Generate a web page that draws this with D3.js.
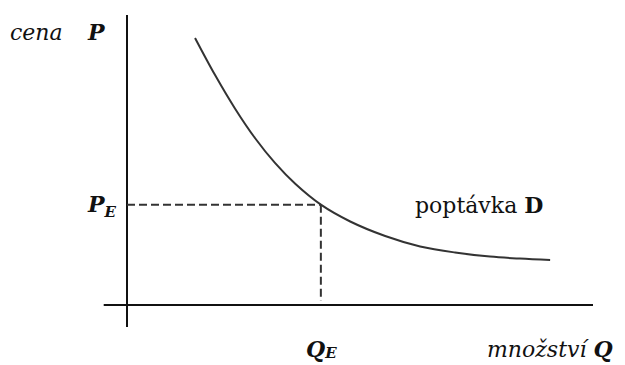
<!DOCTYPE html>
<html lang="cs">
<head>
<meta charset="UTF-8">
<title>Poptávka</title>
<script src="https://d3js.org/d3.v7.min.js"></script>
<style>
  body { margin: 0; background: #fff; }
  svg text { font-family: "DejaVu Serif", "Liberation Serif", serif; fill: #111; }
  .it { font-style: italic; }
  .bi { font-style: italic; font-weight: bold; }
  .b { font-weight: bold; }
</style>
</head>
<body>
<svg width="625" height="365"></svg>
<script>
// demand curve (arbitrary units, 0-100)
const demandQ = [14.6, 18.9, 23.2, 27.5, 31.8, 36.1, 41.6, 47.9, 55.4, 62.9, 70.4, 77.9, 84.3, 90.8];
const demandP = [92.1, 79.3, 67.7, 57.5, 48.9, 41.8, 34.6, 28.8, 23.8, 20.2, 18.1, 16.7, 16.0, 15.5];
const eqQ = 41.6, eqP = 34.6;
const axisQ = [-5, 100];
const axisP = [-7.6, 100];

const svg = d3.select("svg");
const x = d3.scaleLinear().domain([0, 100]).range([127, 593]);
const y = d3.scaleLinear().domain([0, 100]).range([305, 15]);

// axes
svg.append("line")
  .attr("x1", x(0)).attr("x2", x(0))
  .attr("y1", y(axisP[0])).attr("y2", y(axisP[1]))
  .attr("stroke", "#111").attr("stroke-width", 2);
svg.append("line")
  .attr("x1", x(axisQ[0])).attr("x2", x(axisQ[1]))
  .attr("y1", y(0)).attr("y2", y(0))
  .attr("stroke", "#111").attr("stroke-width", 2);

// equilibrium guides
svg.append("line")
  .attr("x1", x(0)).attr("x2", x(eqQ))
  .attr("y1", y(eqP)).attr("y2", y(eqP))
  .attr("stroke", "#333").attr("stroke-width", 2).attr("stroke-dasharray", "8,4");
svg.append("line")
  .attr("x1", x(eqQ)).attr("x2", x(eqQ))
  .attr("y1", y(eqP)).attr("y2", y(0) - 4)
  .attr("stroke", "#333").attr("stroke-width", 2).attr("stroke-dasharray", "8,4");

// demand curve
const line = d3.line()
  .x((d, i) => x(demandQ[i]))
  .y(d => y(d))
  .curve(d3.curveCatmullRom);
svg.append("path")
  .attr("d", line(demandP))
  .attr("fill", "none").attr("stroke", "#333").attr("stroke-width", 2);

// labels
svg.append("text").attr("class", "it").attr("x", 10).attr("y", 40)
  .attr("font-size", 22).text("cena");
svg.append("text").attr("class", "bi").attr("x", 88).attr("y", 40)
  .attr("font-size", 22).text("P");

const pe = svg.append("text").attr("class", "bi").attr("x", 88).attr("y", 212).attr("font-size", 22);
pe.append("tspan").text("P");
pe.append("tspan").attr("font-size", 15).attr("dy", 5).text("E");

const qe = svg.append("text").attr("class", "bi").attr("x", 306).attr("y", 357).attr("font-size", 22);
qe.append("tspan").text("Q");
qe.append("tspan").attr("font-size", 15).attr("dy", 1).text("E");

const dl = svg.append("text").attr("x", 415).attr("y", 213).attr("font-size", 22);
dl.append("tspan").text("poptávka ");
dl.append("tspan").attr("class", "b").text("D");

const ql = svg.append("text").attr("x", 487).attr("y", 357).attr("font-size", 22);
ql.append("tspan").attr("class", "it").text("množství ");
ql.append("tspan").attr("class", "bi").text("Q");
</script>
</body>
</html>
